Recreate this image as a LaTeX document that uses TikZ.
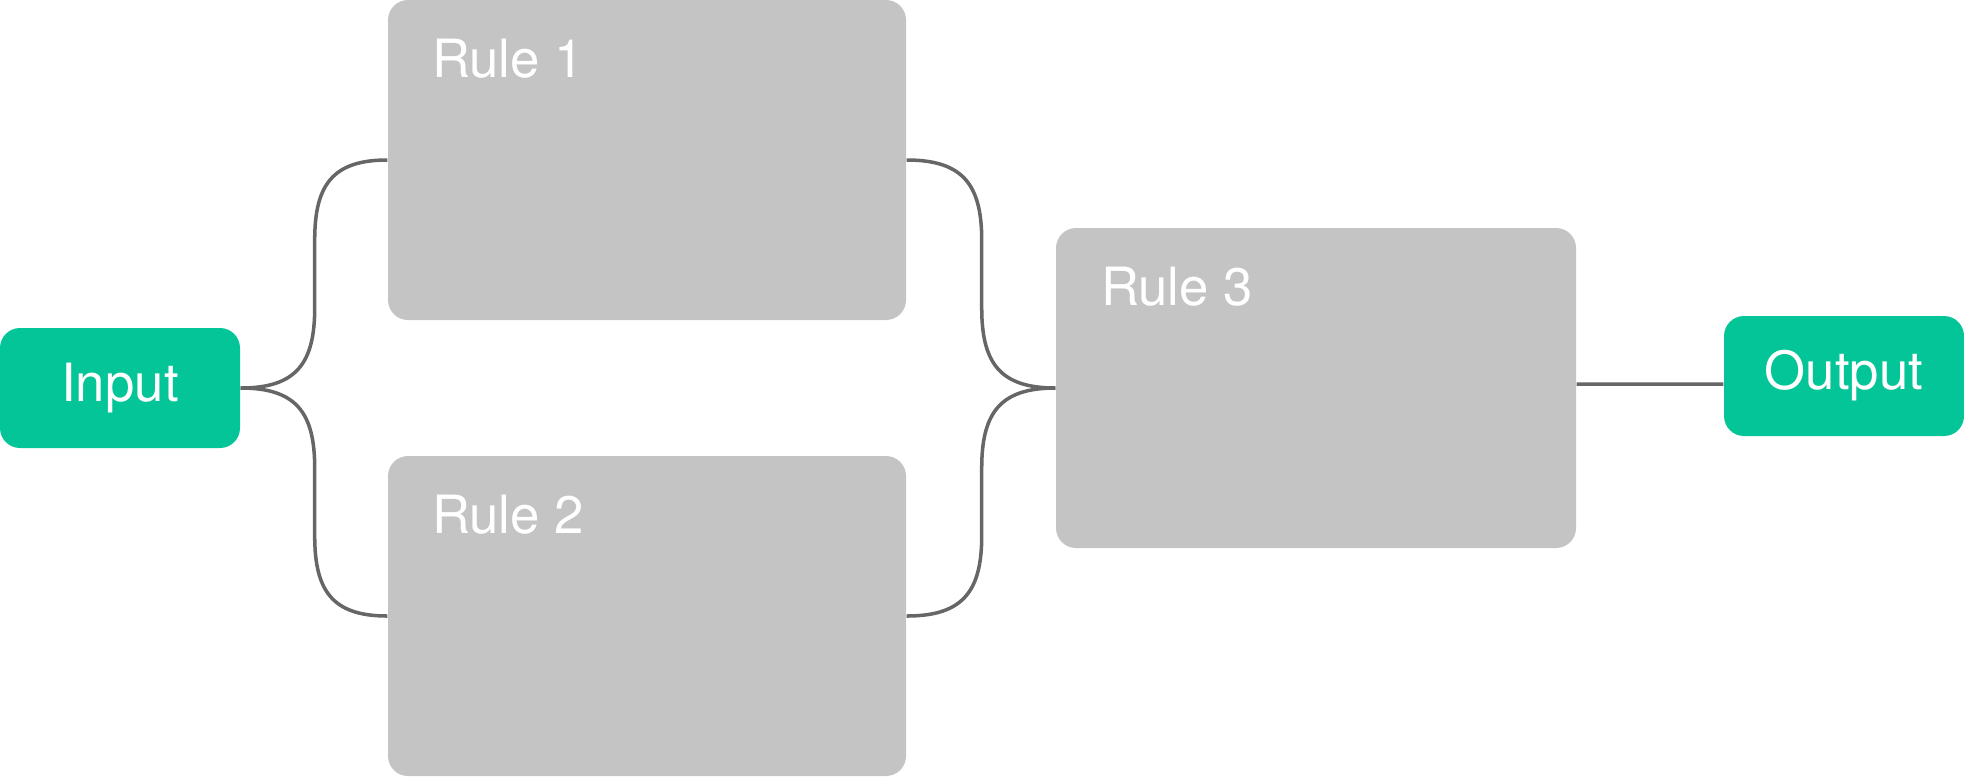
\documentclass[tikz,border=0pt]{standalone}
\usepackage{fontspec}
\setmainfont{TeX Gyre Heros}
\usepackage{tikz}
\usetikzlibrary{positioning}

\definecolor{iogreen}{HTML}{04C597}
\definecolor{rulegray}{HTML}{C4C4C4}
\definecolor{linkgray}{HTML}{666666}

\begin{document}
\begin{tikzpicture}[
    iobox/.style={fill=iogreen, rounded corners=0.2cm, minimum width=2.4cm, minimum height=1.2cm,
                  inner sep=0pt, text=white, font=\fontsize{15}{18}\selectfont},
    rulebox/.style={fill=rulegray, rounded corners=0.2cm, minimum width=5.18cm, minimum height=3.2cm, inner sep=0pt},
    ruletext/.style={inner sep=0pt, text=white, font=\fontsize{15}{18}\selectfont},
    link/.style={draw=linkgray, line width=1pt, looseness=1.3}
]
                \useasboundingbox (0, 0) rectangle (19.64, -7.76);

                % --------
                % Boxes
                % --------
                \node[iobox] at (1.2, -3.88) (input) {Input};

                \node[rulebox] at (6.47, -1.6) (rule1) {};
                \node[rulebox] at (6.47, -6.16) (rule2) {};
                \node[rulebox, minimum width=5.2cm] at (13.16, -3.88) (rule3) {};

                \node[iobox] at (18.44, -3.76) (output) {Output};

                \node[ruletext, below right=0.39cm and 0.44cm of rule1.north west] (rule1text) {Rule 1};
                \node[ruletext, below right=0.39cm and 0.44cm of rule2.north west] (rule2text) {Rule 2};
                \node[ruletext, below right=0.39cm and 0.45cm of rule3.north west] (rule3text) {Rule 3};

                % Draw line
                \draw[link] (input.east) to[out=0, in=-90] ++(0.74, 0.8) -- ++(0, 0.68) to[out=90, in=180] (rule1.west);
                \draw[link] (input.east) to[out=0, in=90] ++(0.74, -0.8) -- ++(0, -0.68) to[out=-90, in=180] (rule2.west);
                \draw[link] (rule1.east) to[out=0, in=90] ++(0.75, -0.8) -- ++(0, -0.68) to[out=-90, in=180] (rule3.west);
                \draw[link] (rule2.east) to[out=0, in=-90] ++(0.75, 0.8) -- ++(0, 0.68) to[out=90, in=180] (rule3.west);
                \draw[link] ([yshift=0.04cm]rule3.east) -- ([yshift=-0.08cm]output.west);
\end{tikzpicture}
\end{document}
